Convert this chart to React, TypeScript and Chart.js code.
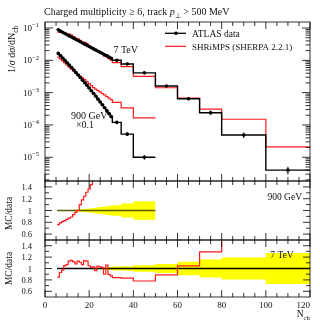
import { useEffect, useRef } from "react";
import { Chart, registerables } from "chart.js";
Chart.register(...registerables);

const FONT = '"Liberation Serif", "Times New Roman", serif';

// ---------- data ----------
const edges7 = [5.5, 6.5, 7.5, 8.5, 9.5, 10.5, 11.5, 12.5, 13.5, 14.5, 15.5, 16.5, 17.5, 18.5, 19.5, 20.5, 21.5, 22.5, 23.5, 24.5, 25.5, 26.5, 27.5, 28.5, 29.5, 30.5, 34.5, 40, 50, 60, 70, 80, 100, 120];
const data7 = [0.088, 0.08, 0.0735, 0.0675, 0.062, 0.057, 0.0525, 0.0483, 0.0444, 0.0408, 0.0375, 0.0345, 0.0317, 0.0291, 0.0268, 0.0246, 0.0226, 0.0208, 0.0191, 0.0176, 0.0162, 0.0149, 0.0137, 0.0126, 0.0116, 0.0101, 0.0077, 0.0041, 0.0016, 0.00065, 0.00024, 0.000049, 0.000004];
const mc7 = [0.0748, 0.0744, 0.0713, 0.0709, 0.0663, 0.0644, 0.0599, 0.0541, 0.048, 0.0461, 0.0416, 0.0369, 0.0361, 0.0329, 0.0281, 0.0251, 0.0233, 0.02, 0.0199, 0.0181, 0.0165, 0.0134, 0.0145, 0.0113, 0.0101, 0.00848, 0.00639, 0.0032, 0.00142, 0.00068, 0.00031, 0.00015, 0.000021];
const err7 = [0.008, 0.008, 0.008, 0.008, 0.008, 0.008, 0.008, 0.008, 0.008, 0.008, 0.01, 0.01, 0.01, 0.01, 0.01, 0.012, 0.012, 0.012, 0.012, 0.015, 0.017, 0.02, 0.022, 0.025, 0.028, 0.035, 0.04, 0.055, 0.08, 0.12, 0.16, 0.195, 0.27];

const edges900 = [5.5, 6.5, 7.5, 8.5, 9.5, 10.5, 11.5, 12.5, 13.5, 14.5, 15.5, 16.5, 17.5, 18.5, 19.5, 20.5, 21.5, 22.5, 23.5, 24.5, 25.5, 26.5, 27.5, 28.5, 29.5, 30.5, 34.5, 40, 50];
// 900 GeV, already scaled by 0.1
const data900 = [0.0164, 0.01396, 0.01183, 0.01, 0.00845, 0.00713, 0.006, 0.00504, 0.00422, 0.00352, 0.00294, 0.00244, 0.00203, 0.00168, 0.00139, 0.00114, 0.00094, 0.00077, 0.00063, 0.000515, 0.00042, 0.000341, 0.000277, 0.000224, 0.000181, 0.00012, 0.000052, 0.00001];
const mc900 = [0.01246, 0.01103, 0.00958, 0.0083, 0.00718, 0.0062, 0.00534, 0.00469, 0.00409, 0.00352, 0.00323, 0.00288, 0.00252, 0.0022, 0.0019, 0.00164, 0.00143, 0.00128, 0.00116, 0.00105, 0.00094, 0.00085, 0.00076, 0.00068, 0.00061, 0.0005, 0.00034, 0.000165];
const err900 = [0.006, 0.006, 0.006, 0.006, 0.006, 0.008, 0.01, 0.012, 0.015, 0.018, 0.021, 0.024, 0.028, 0.031, 0.035, 0.039, 0.043, 0.048, 0.053, 0.058, 0.063, 0.068, 0.074, 0.079, 0.085, 0.09, 0.12, 0.155];

const xTicks = [0, 20, 40, 60, 80, 100, 120];
const yMainExps = [-1, -2, -3, -4, -5];
const ratioTicks = [0.6, 0.8, 1, 1.2, 1.4];
const ratioTickLabels = ["0.6", "0.8", "1", "1.2", "1.4"];

// ---------- helpers ----------
const stepPts = (edges: number[], vals: number[]) => {
  const p: { x: number; y: number }[] = [];
  vals.forEach((v, i) => { p.push({ x: edges[i], y: v }); p.push({ x: edges[i + 1], y: v }); });
  return p;
};
const centerPts = (edges: number[], vals: number[]) => vals.map((v, i) => ({ x: (edges[i] + edges[i + 1]) / 2, y: v }));
const ratio = (a: number[], b: number[]) => a.map((v, i) => v / b[i]);

type Run = { t: string; italic?: boolean; sub?: boolean; sup?: boolean };
function drawRuns(ctx: CanvasRenderingContext2D, runs: Run[], x: number, y: number, size: number, align: string) {
  const f = (r: Run) => `${r.italic ? "italic " : ""}${r.sub || r.sup ? size * 0.72 : size}px ${FONT}`;
  let w = 0;
  for (const r of runs) { ctx.font = f(r); w += ctx.measureText(r.t).width; }
  let cx = align === "left" ? x : align === "right" ? x - w : x - w / 2;
  ctx.textAlign = "left";
  ctx.textBaseline = "alphabetic";
  for (const r of runs) {
    ctx.font = f(r);
    const dy = r.sub ? size * 0.28 : r.sup ? -size * 0.42 : 0;
    ctx.fillText(r.t, cx, y + dy);
    cx += ctx.measureText(r.t).width;
  }
}

const rivetPlugin = {
  id: "rivet",
  beforeDatasetDraw(chart: any, args: any) {
    const ys = args.meta.yScale; const ca = chart.chartArea; const ctx = chart.ctx;
    ctx.save(); ctx.beginPath(); ctx.rect(ca.left, ys.top, ca.right - ca.left, ys.bottom - ys.top); ctx.clip();
  },
  afterDatasetDraw(chart: any) { chart.ctx.restore(); },
  afterDatasetsDraw(chart: any) {
    const ctx = chart.ctx; const xs = chart.scales.x; const ys = chart.scales.y; const ca = chart.chartArea;
    ctx.save(); ctx.beginPath(); ctx.rect(ca.left, ys.top, ca.right - ca.left, ys.bottom - ys.top); ctx.clip();
    ctx.strokeStyle = "#000"; ctx.lineWidth = 1;
    const bars = (edges: number[], vals: number[], errs: number[]) => {
      vals.forEach((v, i) => {
        const px = xs.getPixelForValue((edges[i] + edges[i + 1]) / 2);
        ctx.beginPath(); ctx.moveTo(px, ys.getPixelForValue(v * (1 + errs[i]))); ctx.lineTo(px, ys.getPixelForValue(v * (1 - errs[i]))); ctx.stroke();
      });
    };
    bars(edges7, data7, err7); bars(edges900, data900, err900);
    ctx.restore();
  },
  afterDraw(chart: any) {
    const ctx: CanvasRenderingContext2D = chart.ctx; const ca = chart.chartArea; const xs = chart.scales.x;
    const ym = chart.scales.y, r1 = chart.scales.r1, r2 = chart.scales.r2;
    ctx.save();
    ctx.strokeStyle = "#000"; ctx.lineWidth = 0.8;
    const line = (a: number, b: number, c: number, d: number) => { ctx.beginPath(); ctx.moveTo(a, b); ctx.lineTo(c, d); ctx.stroke(); };
    for (const s of [ym, r1, r2]) {
      const top = s.top, bot = s.bottom;
      ctx.strokeRect(ca.left, top, ca.right - ca.left, bot - top);
      for (let v = 0; v <= 120; v += 5) {
        const px = xs.getPixelForValue(v); const len = v % 20 === 0 ? 7 : 4;
        line(px, top, px, top + len); line(px, bot, px, bot - len);
      }
      if (s === ym) {
        for (let k = -6; k <= -1; k++) for (let m = 1; m <= 9; m++) {
          const v = m * Math.pow(10, k);
          if (v <= s.min || v >= s.max) continue;
          const py = s.getPixelForValue(v); const len = m === 1 ? 8 : 4.5;
          line(ca.left, py, ca.left + len, py); line(ca.right, py, ca.right - len, py);
        }
      } else {
        for (let i = 6; i <= 14; i++) {
          const py = s.getPixelForValue(i / 10); const len = i % 2 === 0 ? 7 : 4;
          line(ca.left, py, ca.left + len, py); line(ca.right, py, ca.right - len, py);
        }
      }
    }
    ctx.fillStyle = "#111";
    for (const e of yMainExps) {
      const py = ym.getPixelForValue(Math.pow(10, e));
      drawRuns(ctx, [{ t: "10" }, { t: "\u2212" + -e, sup: true }], 39, py + 3, 9, "right");
    }
    for (const s of [r1, r2]) ratioTicks.forEach((v, i) => {
      drawRuns(ctx, [{ t: ratioTickLabels[i] }], 32, s.getPixelForValue(v) + 3, 8.5, "right");
    });
    xTicks.forEach((v) => {
      const t = String(v); ctx.font = `9px ${FONT}`;
      const w = ctx.measureText(t).width;
      let cx = xs.getPixelForValue(v);
      if (cx + w / 2 > ca.right) cx = ca.right - w / 2;
      drawRuns(ctx, [{ t }], cx, 308, 9, "center");
    });
    drawRuns(ctx, [{ t: "N" }, { t: "ch", sub: true }], ca.right, 317, 9.5, "right");
    const rot = (runs: Run[], x: number, y: number, size: number, align: string) => {
      ctx.save(); ctx.translate(x, y); ctx.rotate(-Math.PI / 2); drawRuns(ctx, runs, 0, 0, size, align); ctx.restore();
    };
    rot([{ t: "1/" }, { t: "\u03c3", italic: true }, { t: " d" }, { t: "\u03c3", italic: true }, { t: "/dN" }, { t: "ch", sub: true }], 15, ym.top + 4, 10, "right");
    rot([{ t: "MC/data" }], 12, (r1.top + r1.bottom) / 2 + 3, 9.5, "center");
    rot([{ t: "MC/data" }], 12, (r2.top + r2.bottom) / 2, 9.5, "center");
    drawRuns(ctx, [{ t: "Charged multiplicity \u2265 6, track " }, { t: "p", italic: true }, { t: "\u22a5", sub: true }, { t: " > 500 MeV" }], ca.left - 1, 15, 10, "left");
    ctx.strokeStyle = "#000"; ctx.lineWidth = 1.3;
    line(165, 33.3, 186, 33.3);
    ctx.beginPath(); ctx.arc(176, 33.3, 1.8, 0, Math.PI * 2); ctx.fillStyle = "#000"; ctx.fill();
    ctx.strokeStyle = "#ff1a1a"; ctx.lineWidth = 1.2;
    line(165, 46.3, 186, 46.3);
    ctx.fillStyle = "#111";
    drawRuns(ctx, [{ t: "ATLAS data" }], 192, 37, 9.5, "left");
    drawRuns(ctx, [{ t: "SHRiMPS (SHERPA 2.2.1)" }], 192, 50, 9, "left");
    drawRuns(ctx, [{ t: "7 TeV" }], xs.getPixelForValue(31), ym.getPixelForValue(0.0224) + 3.5, 10, "left");
    drawRuns(ctx, [{ t: "900 GeV" }], xs.getPixelForValue(20), ym.getPixelForValue(2.0e-4) + 3.5, 10, "center");
    drawRuns(ctx, [{ t: "\u00d70.1" }], xs.getPixelForValue(18.1), ym.getPixelForValue(1.07e-4) + 3.5, 10, "center");
    drawRuns(ctx, [{ t: "900 GeV" }], xs.getPixelForValue(116.4), r1.getPixelForValue(1.24) + 3.5, 9.5, "right");
    drawRuns(ctx, [{ t: "7 TeV" }], xs.getPixelForValue(102), r2.getPixelForValue(1.254) + 3.5, 9.5, "left");
    ctx.restore();
  },
};

export default function App() {
  const ref = useRef<HTMLCanvasElement>(null);
  useEffect(() => {
    if (!ref.current) return;
    const ones7 = ratio(data7, data7), ones900 = ratio(data900, data900);
    const ds = (o: any) => ({ pointRadius: 0, borderJoinStyle: "miter", fill: false, ...o });
    const chart = new Chart(ref.current, {
      type: "line",
      data: {
        datasets: [
          ds({ data: centerPts(edges7, data7), yAxisID: "y", showLine: false, pointRadius: 1.8, pointBackgroundColor: "#000", pointBorderWidth: 0, order: 0 }),
          ds({ data: stepPts(edges7, data7), yAxisID: "y", borderColor: "#000", borderWidth: 1.4, order: 1 }),
          ds({ data: stepPts(edges7, mc7), yAxisID: "y", borderColor: "#ff1a1a", borderWidth: 1.2, order: 2 }),
          ds({ data: centerPts(edges900, data900), yAxisID: "y", showLine: false, pointRadius: 1.8, pointBackgroundColor: "#000", pointBorderWidth: 0, order: 0 }),
          ds({ data: stepPts(edges900, data900), yAxisID: "y", borderColor: "#000", borderWidth: 1.4, order: 1 }),
          ds({ data: stepPts(edges900, mc900), yAxisID: "y", borderColor: "#ff1a1a", borderWidth: 1.2, order: 2 }),
          ds({ data: stepPts(edges900, err900.map((e) => 1 + e)), yAxisID: "r1", borderWidth: 0, order: 10 }),
          ds({ data: stepPts(edges900, err900.map((e) => 1 - e)), yAxisID: "r1", borderWidth: 0, fill: "-1", backgroundColor: "#ffff00", order: 10 }),
          ds({ data: stepPts(edges900, ones900), yAxisID: "r1", borderColor: "#5a5a08", borderWidth: 1.4, order: 5 }),
          ds({ data: stepPts(edges900, ratio(mc900, data900)), yAxisID: "r1", borderColor: "#ff1a1a", borderWidth: 1.2, order: 4 }),
          ds({ data: stepPts(edges7, err7.map((e) => 1 + e)), yAxisID: "r2", borderWidth: 0, order: 10 }),
          ds({ data: stepPts(edges7, err7.map((e) => 1 - e)), yAxisID: "r2", borderWidth: 0, fill: "-1", backgroundColor: "#ffff00", order: 10 }),
          ds({ data: stepPts(edges7, ones7), yAxisID: "r2", borderColor: "#000", borderWidth: 1.4, order: 5 }),
          ds({ data: stepPts(edges7, ratio(mc7, data7)), yAxisID: "r2", borderColor: "#ff1a1a", borderWidth: 1.2, order: 4 }),
        ],
      },
      options: {
        responsive: false,
        animation: false,
        events: [],
        layout: { padding: { left: 45, right: 10, top: 22, bottom: 25 } },
        elements: { line: { tension: 0 } },
        scales: {
          x: { type: "linear", min: 0, max: 120, display: false },
          r2: { type: "linear", min: 0.5, max: 1.5, display: false, position: "left", stack: "p", stackWeight: 57 },
          r1: { type: "linear", min: 0.5, max: 1.5, display: false, position: "left", stack: "p", stackWeight: 59 },
          y: { type: "logarithmic", min: 1.845e-6, max: 0.1535, display: false, position: "left", stack: "p", stackWeight: 159 },
        },
        plugins: { legend: { display: false }, tooltip: { enabled: false }, filler: { drawTime: "beforeDatasetsDraw" } as any },
      } as any,
      plugins: [rivetPlugin as any],
    });
    return () => chart.destroy();
  }, []);
  return (
    <div style={{ position: "fixed", left: 0, top: 0, width: 320, height: 322, background: "#fff" }}>
      <canvas ref={ref} width={320} height={322} style={{ display: "block" }} />
    </div>
  );
}
